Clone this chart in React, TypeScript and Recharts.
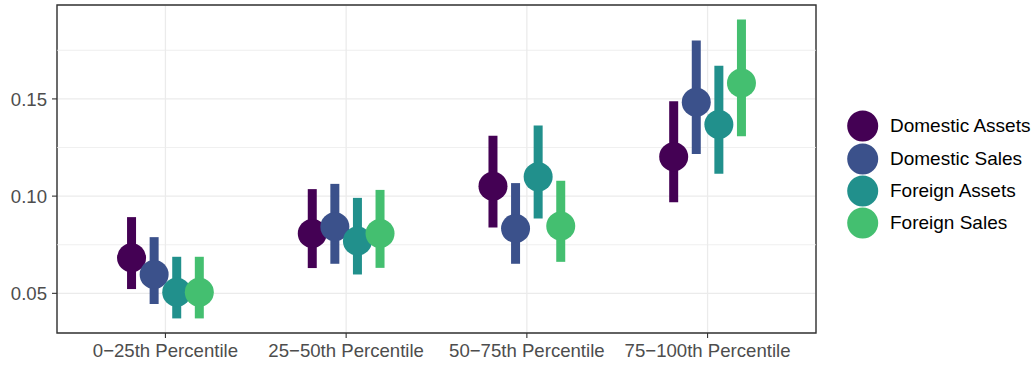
import React from 'react';
import {
  ComposedChart,
  Scatter,
  ErrorBar,
  XAxis,
  YAxis,
  CartesianGrid,
  ReferenceLine,
  ReferenceArea,
} from 'recharts';

const categories = ['0−25th Percentile', '25−50th Percentile', '50−75th Percentile', '75−100th Percentile'];
const seriesNames = ['Domestic Assets', 'Domestic Sales', 'Foreign Assets', 'Foreign Sales'];
const seriesColors = ['#440154', '#3B518B', '#21908C', '#44BF70'];

const domesticAssets = [0.0683, 0.0808, 0.1051, 0.1202];
const domesticAssetsLow = [0.0522, 0.063, 0.0839, 0.0969];
const domesticAssetsHigh = [0.0892, 0.1036, 0.131, 0.1488];

const domesticSales = [0.0597, 0.0842, 0.0834, 0.1483];
const domesticSalesLow = [0.0445, 0.0652, 0.0652, 0.1217];
const domesticSalesHigh = [0.0789, 0.1063, 0.1067, 0.18];

const foreignAssets = [0.0505, 0.0769, 0.1099, 0.1368];
const foreignAssetsLow = [0.0371, 0.0597, 0.0885, 0.1115];
const foreignAssetsHigh = [0.0688, 0.0991, 0.1363, 0.167];

const foreignSales = [0.0505, 0.0808, 0.0846, 0.1582];
const foreignSalesLow = [0.0371, 0.0631, 0.0662, 0.1308];
const foreignSalesHigh = [0.0688, 0.1032, 0.1079, 0.1908];

const yTicks = [0.05, 0.1, 0.15];
const yMinorTicks = [0.075, 0.125, 0.175];
const yDomain: [number, number] = [0.0296, 0.1983];
const xDomain: [number, number] = [0.4, 4.6];

const FONT = '"Liberation Sans", Arial, Helvetica, sans-serif';
const DODGE = 0.5;

const seriesValues = [
  { est: domesticAssets, low: domesticAssetsLow, high: domesticAssetsHigh },
  { est: domesticSales, low: domesticSalesLow, high: domesticSalesHigh },
  { est: foreignAssets, low: foreignAssetsLow, high: foreignAssetsHigh },
  { est: foreignSales, low: foreignSalesLow, high: foreignSalesHigh },
];

// position_dodge style offsets within each category
const seriesData = seriesValues.map((s, si) =>
  categories.map((c, ci) => ({
    category: c,
    x: ci + 1 + (si - (seriesNames.length - 1) / 2) * (DODGE / seriesNames.length),
    y: s.est[ci],
    err: [s.est[ci] - s.low[ci], s.high[ci] - s.est[ci]],
  }))
);

const Legendish = () => (
  <div style={{ position: 'absolute', left: 845, top: 110, fontFamily: FONT }}>
    {seriesNames.map((name, i) => (
      <div key={name} style={{ display: 'flex', alignItems: 'center', height: 32.4 }}>
        <svg width={34} height={32} style={{ display: 'block' }}>
          <circle cx={17.7} cy={16} r={15.5} fill={seriesColors[i]} />
        </svg>
        <span style={{ marginLeft: 11, fontSize: 19, color: '#000', whiteSpace: 'nowrap' }}>{name}</span>
      </div>
    ))}
  </div>
);

export default function App() {
  return (
    <div style={{ position: 'absolute', left: 0, top: 0, width: 1033, height: 365, background: '#fff' }}>
      <ComposedChart
        width={1033}
        height={365}
        margin={{ top: 5, right: 217, bottom: 0, left: 0 }}
        style={{ fontFamily: FONT }}
      >
        <CartesianGrid stroke="#EBEBEB" strokeWidth={1.3} />
        {yMinorTicks.map((v) => (
          <ReferenceLine key={v} y={v} stroke="#EBEBEB" strokeWidth={0.8} />
        ))}
        <XAxis
          type="number"
          dataKey="x"
          domain={xDomain}
          ticks={[1, 2, 3, 4]}
          tickFormatter={(v: number) => categories[Math.round(v) - 1]}
          height={32}
          axisLine={false}
          tickSize={5}
          tickMargin={6}
          tick={{ fill: '#4D4D4D', fontSize: 18.6 }}
          tickLine={{ stroke: '#333333', strokeWidth: 1.1 }}
          allowDataOverflow
        />
        <YAxis
          type="number"
          dataKey="y"
          domain={yDomain}
          ticks={yTicks}
          tickFormatter={(v: number) => v.toFixed(2)}
          width={57}
          axisLine={false}
          tickSize={5}
          tickMargin={5}
          tick={{ fill: '#4D4D4D', fontSize: 18.6 }}
          tickLine={{ stroke: '#333333', strokeWidth: 1.1 }}
          allowDataOverflow
        />
        {seriesData.map((data, i) => (
          <Scatter
            key={`bar-${seriesNames[i]}`}
            name={seriesNames[i]}
            data={data}
            dataKey="y"
            isAnimationActive={false}
            shape={() => <g />}
          >
            <ErrorBar
              dataKey="err"
              direction="y"
              width={0}
              strokeWidth={9}
              stroke={seriesColors[i]}
              isAnimationActive={false}
            />
          </Scatter>
        ))}
        {seriesData.map((data, i) => (
          <Scatter
            key={`pt-${seriesNames[i]}`}
            name={seriesNames[i]}
            data={data}
            dataKey="y"
            isAnimationActive={false}
            shape={(p: any) => <circle cx={p.cx} cy={p.cy} r={14.5} fill={seriesColors[i]} />}
          />
        ))}
        <ReferenceArea
          x1={xDomain[0]}
          x2={xDomain[1]}
          y1={yDomain[0]}
          y2={yDomain[1]}
          fill="none"
          stroke="#333333"
          strokeWidth={1.4}
          ifOverflow="visible"
        />
      </ComposedChart>
      <Legendish />
    </div>
  );
}
